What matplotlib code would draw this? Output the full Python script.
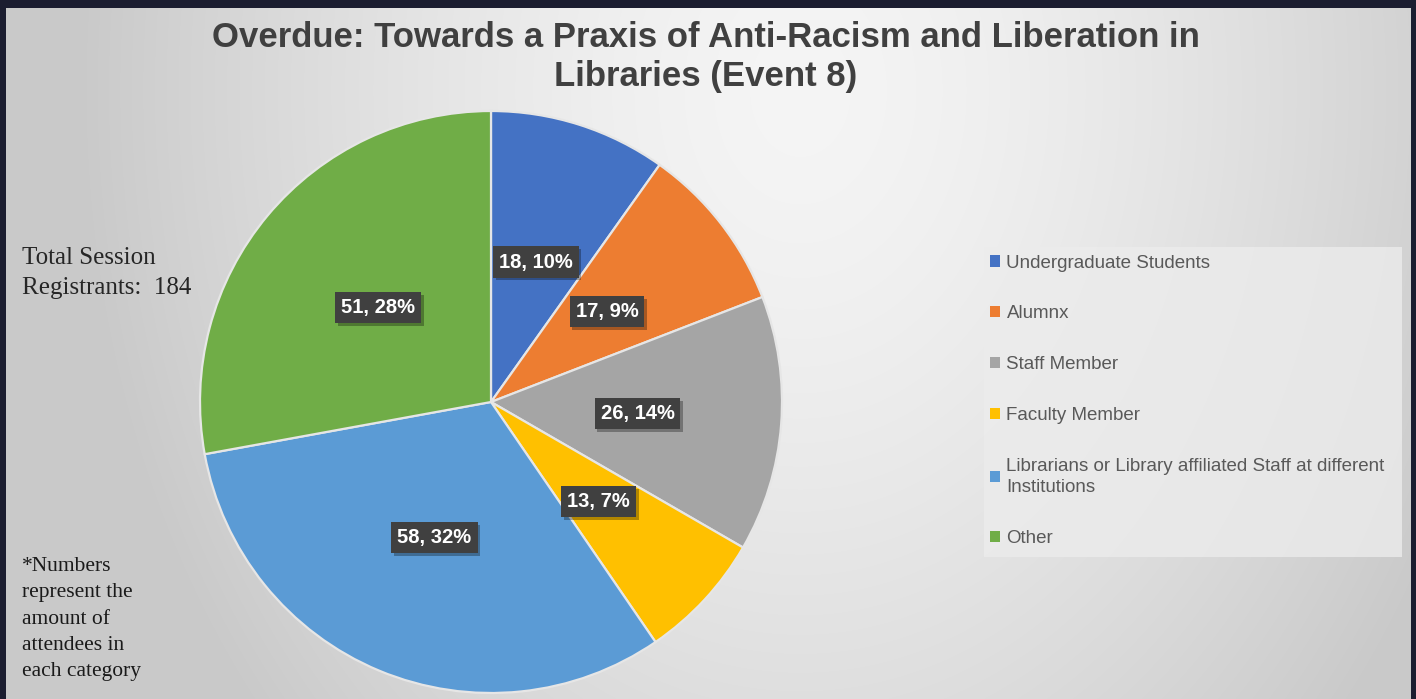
import numpy as np
import matplotlib.pyplot as plt
import matplotlib.patheffects as pe
from matplotlib.patches import Patch, Rectangle

# 数据
categories = ["Undergraduate Students", "Alumnx", "Staff Member", "Faculty Member",
              "Librarians or Library affiliated Staff at different\nInstitutions", "Other"]
counts = [18, 17, 26, 13, 58, 51]
colors = ["#4472C4", "#ED7D31", "#A5A5A5", "#FFC000", "#5B9BD5", "#70AD47"]
title = "Overdue: Towards a Praxis of Anti-Racism and Liberation in\nLibraries (Event 8)"
total_note = "Total Session\nRegistrants:  184"
foot_note = "*Numbers\nrepresent the\namount of\nattendees in\neach category"

W, H = 1416, 699
fig = plt.figure(figsize=(W / 100, H / 100), dpi=100)
fig.patch.set_facecolor("#1b1d30")

# 背景渐变
bl, bt, br = 6, 8, 1411
bg = fig.add_axes([bl / W, 0, (br - bl) / W, (H - bt) / H])
yy, xx = np.mgrid[bt:H, bl:br]
d = np.sqrt(((xx - 800) / 720.0) ** 2 + ((yy - 90) / 950.0) ** 2)
val = 0.96 - 0.17 * np.clip(d, 0, 1) ** 1.5
bg.imshow(np.dstack([val, val, val]), aspect="auto", extent=[0, 1, 0, 1])
bg.axis("off")

# 饼图
cx, cy, r = 491, 402, 291
ax = fig.add_axes([(cx - r) / W, (H - cy - r) / H, 2 * r / W, 2 * r / H])
wedges, _ = ax.pie(counts, colors=colors, startangle=90, counterclock=False,
                   wedgeprops=dict(edgecolor="#e6e6e6", linewidth=1.6))
ax.set_xlim(-1, 1)
ax.set_ylim(-1, 1)
ax.set_aspect("equal")
ax.axis("off")

total = sum(counts)
for w, v in zip(wedges, counts):
    ang = np.deg2rad((w.theta1 + w.theta2) / 2)
    x, y = 0.505 * np.cos(ang), 0.505 * np.sin(ang)
    lbl = f"{v}, {round(v / total * 100)}%"
    t = ax.text(x, y, lbl, ha="center", va="center", fontsize=14.5, fontweight="bold",
                family="Liberation Sans", color="white",
                bbox=dict(boxstyle="square,pad=0.3", fc="#404040", ec="none"))
    # 阴影
    t.get_bbox_patch().set_path_effects(
        [pe.SimplePatchShadow(offset=(2, -2), shadow_rgbFace="black", alpha=0.3), pe.Normal()])

# 标题
fig.text(706 / W, 1 - 57 / H, title, ha="center", va="center", fontsize=25,
         fontweight="bold", family="Liberation Sans", color="#404040", linespacing=1.22)

# 图例
fig.patches.append(Rectangle((984 / W, 1 - 557 / H), (1402 - 984) / W, (557 - 247) / H,
                             transform=fig.transFigure, fc="#ececec", ec="none", alpha=0.8))
handles = [Patch(facecolor=c, edgecolor="none") for c in colors]
leg = fig.legend(handles, categories, loc="upper left",
                 bbox_to_anchor=(984 / W, 1 - 249 / H), frameon=False,
                 prop=dict(family="Liberation Sans", size=13.5), labelcolor="#595959",
                 handlelength=0.55, handleheight=0.55, handletextpad=0.35,
                 labelspacing=1.8, borderaxespad=0, borderpad=0.3)
leg.get_texts()[4].set_linespacing(1.35)

# 左侧注释
fig.text(22 / W, 1 - 273 / H, total_note, ha="left", va="center", fontsize=18,
         family="Liberation Serif", color="#262626", linespacing=1.45)
fig.text(22 / W, 1 - 619 / H, foot_note, ha="left", va="center", fontsize=15.5,
         family="Liberation Serif", color="#1a1a1a", linespacing=1.53)

fig.savefig("out.png", dpi=100, facecolor=fig.get_facecolor())
